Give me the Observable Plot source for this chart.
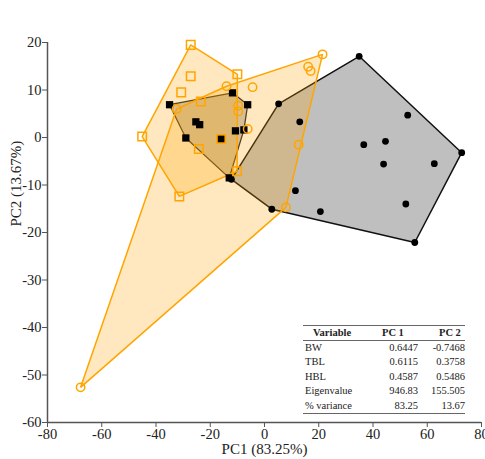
<!DOCTYPE html>
<html>
<head>
<meta charset="utf-8">
<script src="https://cdn.jsdelivr.net/npm/d3@7"></script>
<script src="https://cdn.jsdelivr.net/npm/@observablehq/plot@0.6"></script>
<style>
  html, body { margin: 0; padding: 0; background: #fff; }
  #wrap { position: relative; width: 485px; height: 459px; overflow: hidden; }
  #tbl { position: absolute; left: 303px; top: 325px; width: 162px; border-collapse: collapse;
         font-family: "Liberation Serif", "Times New Roman", serif; font-size: 10.5px; color: #222; }
  #tbl thead tr { border-top: 1.5px solid #666; border-bottom: 1px solid #666; height: 15px; }
  #tbl tbody tr { height: 14.5px; }
  #tbl tbody tr:last-child { border-bottom: 1.5px solid #666; }
  #tbl td, #tbl th { padding: 0; line-height: 12px; white-space: nowrap; }
  #tbl th { font-weight: bold; text-align: left; }
</style>
</head>
<body>
<div id="wrap"></div>
<script>
// Group A: black filled circles
const blackCircleX = [34.9, 52.8, 36.6, 44.6, 43.9, 62.6, 72.7, 52.1, 55.4, 5.2, 13.0, 11.4, 2.7, 20.6, -12.2];
const blackCircleY = [17.1, 4.7, -1.5, -0.8, -5.6, -5.5, -3.2, -14.0, -22.1, 7.1, 3.3, -11.2, -15.1, -15.6, -8.8];
// Group B: black filled squares
const blackSquareX = [-35.0, -11.8, -6.2, -25.3, -23.9, -29.0, -10.7, -7.6, -13.0, -16.0];
const blackSquareY = [6.9, 9.4, 6.9, 3.3, 2.7, -0.1, 1.4, 1.6, -8.5, -0.3];
// Group C: orange open squares
const orangeSquareX = [-27.2, -10.0, -27.2, -30.7, -23.5, -45.1, -24.2, -31.4, -10.1, -16.0];
const orangeSquareY = [19.5, 13.3, 12.9, 9.5, 7.6, 0.2, -2.4, -12.4, -7.1, -0.3];
// Group D: orange open circles
const orangeCircleX = [21.4, 16.1, 17.0, -4.4, 12.6, 7.9, -6.2, -32.4, -14.0, -9.7, -9.7, -67.8];
const orangeCircleY = [17.5, 14.9, 14.0, 10.6, -1.5, -14.7, 1.8, 6.0, 10.8, 6.7, 5.5, -52.6];

const xTicks = [-80, -60, -40, -20, 0, 20, 40, 60, 80];
const yTicks = [-60, -50, -40, -30, -20, -10, 0, 10, 20];
const xLabel = "PC1 (83.25%)";
const yLabel = "PC2 (13.67%)";

const tableHeader = ["Variable", "PC 1", "PC 2"];
const tableVariables = ["BW", "TBL", "HBL", "Eigenvalue", "% variance"];
const tablePC1 = ["0.6447", "0.6115", "0.4587", "946.83", "83.25"];
const tablePC2 = ["-0.7468", "0.3758", "0.5486", "155.505", "13.67"];

const toPts = (xs, ys) => xs.map((x, i) => ({x, y: ys[i]}));
const blackCircles = toPts(blackCircleX, blackCircleY);
const blackSquares = toPts(blackSquareX, blackSquareY);
const orangeSquares = toPts(orangeSquareX, orangeSquareY);
const orangeCircles = toPts(orangeCircleX, orangeCircleY);

const ORANGE = "#FFA500";
const AXIS = "#555";
const FONT = "'Liberation Serif', 'Times New Roman', serif";
const fmt = d => String(d);

const chart = Plot.plot({
  width: 485,
  height: 459,
  marginLeft: 47,
  marginRight: 4,
  marginTop: 42,
  marginBottom: 37,
  style: {fontFamily: FONT, fontSize: "14px", color: "#222", background: "#fff"},
  x: {domain: [-80, 80]},
  y: {domain: [-60, 20]},
  marks: [
    Plot.hull(blackCircles, {x: "x", y: "y", fill: "black", fillOpacity: 0.25, stroke: "#111", strokeWidth: 1.5}),
    Plot.hull(blackSquares, {x: "x", y: "y", fill: "black", fillOpacity: 0.22, stroke: "#222", strokeWidth: 1.3}),
    Plot.hull(orangeCircles, {x: "x", y: "y", fill: ORANGE, fillOpacity: 0.25, stroke: ORANGE, strokeWidth: 1.5}),
    Plot.hull(orangeSquares, {x: "x", y: "y", fill: ORANGE, fillOpacity: 0.25, stroke: ORANGE, strokeWidth: 1.5}),
    Plot.ruleX([xTicks[0]], {stroke: AXIS, strokeWidth: 1.5}),
    Plot.ruleY([yTicks[0]], {stroke: AXIS, strokeWidth: 1.5}),
    Plot.axisX(xTicks, {tickSize: 5, tickPadding: 1, fontSize: 14.5, stroke: AXIS, color: "#222",
      tickFormat: fmt, label: null}),
    Plot.axisY(yTicks, {tickSize: 5, tickPadding: 1, fontSize: 14.5, stroke: AXIS, color: "#222",
      tickFormat: fmt, label: null}),
    Plot.text([xLabel], {frameAnchor: "bottom", dy: 27, text: d => d, fontSize: 15, fill: "#222", lineAnchor: "middle"}),
    Plot.text([yLabel], {frameAnchor: "left", dx: -31, dy: -6, rotate: -90, text: d => d, fontSize: 15, fill: "#222", lineAnchor: "middle"}),
    Plot.dot(blackCircles, {x: "x", y: "y", symbol: "circle", r: 3.4, fill: "black"}),
    Plot.dot(blackSquares, {x: "x", y: "y", symbol: "square", r: 4.1, fill: "black"}),
    Plot.dot(orangeSquares, {x: "x", y: "y", symbol: "square", r: 4.8, fill: "none", stroke: ORANGE, strokeWidth: 1.5}),
    Plot.dot(orangeCircles, {x: "x", y: "y", symbol: "circle", r: 4.2, fill: "none", stroke: ORANGE, strokeWidth: 1.5})
  ]
});

const wrap = document.getElementById("wrap");
wrap.appendChild(chart);

// Loadings table overlay
const table = document.createElement("table");
table.id = "tbl";
const colgroup = document.createElement("colgroup");
[72, 43, 47].forEach(w => { const c = document.createElement("col"); c.style.width = w + "px"; colgroup.appendChild(c); });
table.appendChild(colgroup);
const thead = document.createElement("thead");
const hr = document.createElement("tr");
const headPad = [10, 7, 21];
tableHeader.forEach((h, i) => {
  const th = document.createElement("th");
  th.textContent = h;
  th.style.paddingLeft = headPad[i] + "px";
  hr.appendChild(th);
});
thead.appendChild(hr);
table.appendChild(thead);
const tbody = document.createElement("tbody");
tableVariables.forEach((v, i) => {
  const tr = document.createElement("tr");
  const a = document.createElement("td"); a.textContent = v; a.style.paddingLeft = "2px";
  const b = document.createElement("td"); b.textContent = tablePC1[i]; b.style.textAlign = "right";
  const c = document.createElement("td"); c.textContent = tablePC2[i]; c.style.textAlign = "right";
  tr.append(a, b, c);
  tbody.appendChild(tr);
});
table.appendChild(tbody);
wrap.appendChild(table);
</script>
</body>
</html>
